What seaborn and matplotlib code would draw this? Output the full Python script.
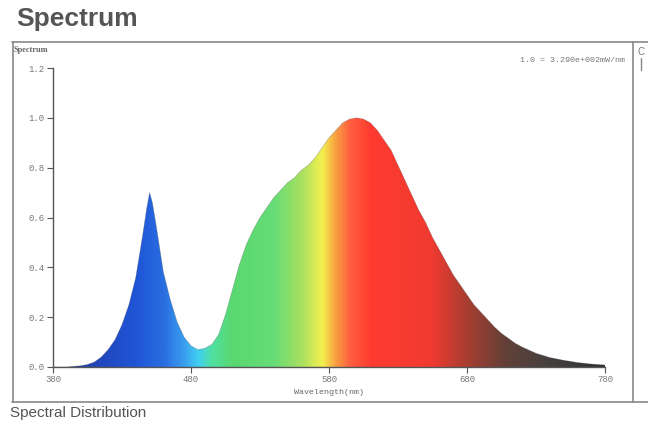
import numpy as np
import pandas as pd
import matplotlib
matplotlib.use("Agg")
import matplotlib.pyplot as plt
from matplotlib.colors import LinearSegmentedColormap
from matplotlib.lines import Line2D
import seaborn as sns

# ---- data ----
wavelength = [380, 390, 400, 405, 410, 415, 420, 425, 430, 435, 440, 445, 448, 450, 452, 455,
              460, 465, 470, 475, 480, 485, 490, 495, 500, 505, 510, 515, 520, 525, 530, 535,
              540, 545, 550, 555, 560, 565, 570, 575, 580, 585, 590, 595, 600, 605, 610, 615,
              620, 625, 630, 635, 640, 645, 650, 655, 660, 665, 670, 675, 680, 685, 690, 695,
              700, 705, 710, 715, 720, 730, 740, 750, 760, 770, 780]
intensity = [0.0, 0.0, 0.005, 0.01, 0.02, 0.04, 0.07, 0.11, 0.17, 0.25, 0.36, 0.53, 0.64, 0.70, 0.66, 0.56,
             0.38, 0.27, 0.18, 0.12, 0.085, 0.07, 0.075, 0.09, 0.13, 0.21, 0.31, 0.41, 0.49, 0.55, 0.60, 0.64,
             0.68, 0.71, 0.74, 0.76, 0.79, 0.81, 0.84, 0.88, 0.92, 0.95, 0.98, 0.995, 1.0, 0.995, 0.98, 0.95,
             0.91, 0.87, 0.81, 0.75, 0.69, 0.63, 0.58, 0.52, 0.47, 0.42, 0.37, 0.33, 0.29, 0.25, 0.22, 0.19,
             0.16, 0.135, 0.115, 0.095, 0.08, 0.055, 0.038, 0.027, 0.018, 0.012, 0.008]
x_ticks = [380, 480, 580, 680, 780]
y_ticks = [0.0, 0.2, 0.4, 0.6, 0.8, 1.0, 1.2]

# spectral colour knots (wavelength -> colour)
color_knots_wl = [380, 410, 440, 460, 475, 485, 495, 510, 540, 560, 575, 585, 595, 610, 655, 680, 710, 740, 780]
color_knots = ["#283890", "#2045b8", "#1f55d8", "#2a6ee0", "#3aa0f0", "#40d0f0", "#50e0a0", "#5ad870",
               "#66dd77", "#a8e060", "#f4f050", "#f8a040", "#ff6040", "#ff3b30", "#f03a30", "#a83e30",
               "#604038", "#454040", "#303030"]

df = pd.DataFrame({"Wavelength": wavelength, "Spectrum": intensity})

sns.set_style("white")
plt.rcParams["font.family"] = ["Liberation Sans", "DejaVu Sans"]

W, H = 648, 430
fig = plt.figure(figsize=(W / 100, H / 100), dpi=100)
ax = fig.add_axes([53 / W, 1 - 367 / H, 552 / W, 299 / H])

# gradient fill clipped to the area under the curve
fill = ax.fill_between(df["Wavelength"], df["Spectrum"], 0, facecolor="none", edgecolor="none")
pos = [(w - 380) / 400 for w in color_knots_wl]
cmap = LinearSegmentedColormap.from_list("spec", list(zip(pos, color_knots)))
grad = np.linspace(0, 1, 800).reshape(1, -1)
im = ax.imshow(grad, cmap=cmap, aspect="auto", extent=[380, 780, 0, 1.2], origin="lower",
               interpolation="bilinear")
im.set_clip_path(fill.get_paths()[0], transform=ax.transData)

sns.lineplot(data=df, x="Wavelength", y="Spectrum", ax=ax, color="#555555", linewidth=0.5, alpha=0.35)

ax.set_xlim(380, 780)
ax.set_ylim(0, 1.2)
ax.set_xticks(x_ticks)
ax.set_xticklabels([str(t) for t in x_ticks])
ax.set_yticks(y_ticks)
ax.set_yticklabels([f"{t:.1f}" for t in y_ticks])
for s in ["top", "right"]:
    ax.spines[s].set_visible(False)
for s in ["left", "bottom"]:
    ax.spines[s].set_color("#555555")
    ax.spines[s].set_linewidth(1.0)
ax.tick_params(axis="both", which="both", direction="out", length=4, width=0.8, color="#555555",
               labelsize=6.5, labelcolor="#777777", pad=2, bottom=True, left=True)
for lab in ax.get_xticklabels() + ax.get_yticklabels():
    lab.set_family(["Liberation Mono", "DejaVu Sans Mono"])
ax.set_xlabel("Wavelength(nm)", fontsize=6, color="#666666", family=["Liberation Mono"], labelpad=3)
ax.set_ylabel("")

# texts
fig.text(16 / W, 1 - 19 / H, "Spectrum", fontsize=19, fontweight="bold", color="#555555",
         va="center", ha="left")
fig.text(14 / W, 1 - 50 / H, "Spectrum", fontsize=6, color="#666666", va="center", ha="left",
         family=["Liberation Serif"], fontweight="bold")
fig.text(625 / W, 1 - 61 / H, "1.0 = 3.290e+002mW/nm", fontsize=6, color="#777777", va="center",
         ha="right", family=["Liberation Mono"])
fig.text(10 / W, 1 - 413 / H, "Spectral Distribution", fontsize=11, color="#555555", va="center",
         ha="left")
fig.text(637 / W, 1 - 52 / H, "C", fontsize=7, color="#777777", va="center", ha="left")

# frame lines
def fline(x0, y0, x1, y1, lw=1.2, c="#888888"):
    fig.add_artist(Line2D([x0 / W, x1 / W], [1 - y0 / H, 1 - y1 / H], transform=fig.transFigure,
                          color=c, linewidth=lw))

fline(12, 42, 648, 42)
fline(13, 42, 13, 402)
fline(12, 402, 648, 402)
fline(633, 42, 633, 402)
fline(641, 58, 641, 70, lw=1.0)

fig.savefig("out.png", dpi=100)
